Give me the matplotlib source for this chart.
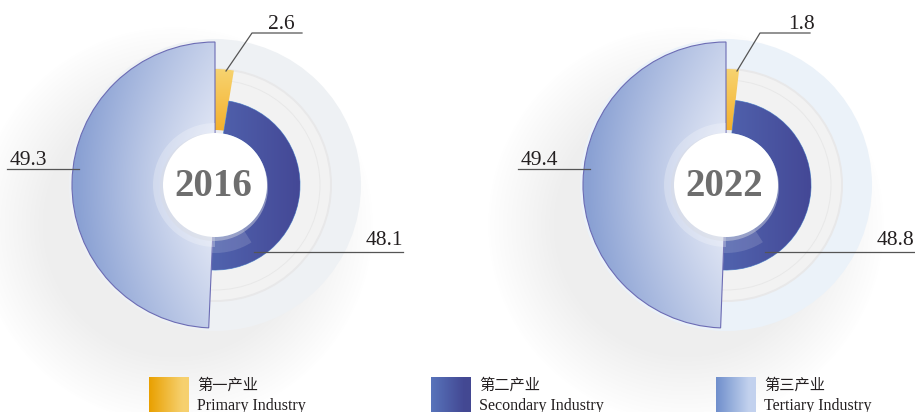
import numpy as np
import matplotlib.pyplot as plt
from matplotlib.patches import Wedge, Circle, Rectangle
from matplotlib.colors import to_rgb

# ---------------- data ----------------
years = ['2016', '2022']
primary = [2.6, 1.8]
secondary = [48.1, 48.8]
tertiary = [49.3, 49.4]
legend_cn = ['第一产业', '第二产业', '第三产业']
legend_en = ['Primary Industry', 'Secondary Industry', 'Tertiary Industry']

SERIF = ['Liberation Serif', 'Noto Sans CJK SC']
plt.rcParams['font.family'] = SERIF

W, H = 915, 412
fig = plt.figure(figsize=(W / 100, H / 100), dpi=100)
ax = fig.add_axes([0, 0, 1, 1])


def mix(c1, c2, t):
    t = np.clip(t, 0, 1)[..., None]
    return np.array(to_rgb(c1)) * (1 - t) + np.array(to_rgb(c2)) * t


def grad_fill(patch, extent, func, z):
    x0, x1, y0, y1 = extent
    X, Y = np.meshgrid(np.linspace(x0, x1, 160), np.linspace(y0, y1, 160))
    im = ax.imshow(func(X, Y), extent=(x0, x1, y1, y0), origin='upper',
                   zorder=z, interpolation='bilinear')
    im.set_clip_path(patch)


# soft shadow behind the charts (lower left)
gx, gy = np.meshgrid(np.arange(W) + 0.5, np.arange(H) + 0.5)
alpha = np.zeros((H, W))
centres = [(215, 185), (726, 185)]
for cx, cy in centres:
    d = np.hypot(gx - (cx - 40), gy - (cy + 40))
    alpha = np.maximum(alpha, 0.13 * np.clip((200 - d) / 70, 0, 1))
shadow = np.zeros((H, W, 4))
shadow[..., :3] = 0.5
shadow[..., 3] = alpha
ax.imshow(shadow, extent=(0, W, H, 0), origin='upper', zorder=0)

ring_cols = ['#eef1f4', '#ebf2f9']

for k, (cx, cy) in enumerate(centres):
    # background rings
    ax.add_patch(Circle((cx, cy), 146, fc=ring_cols[k], ec='none', zorder=1))
    ax.add_patch(Circle((cx, cy), 117, fc='#e8e8e9', ec='none', zorder=1))
    ax.add_patch(Circle((cx, cy), 115, fc='#f2f2f2', ec='none', zorder=1))
    ax.add_patch(Circle((cx, cy), 105, fc='none', ec='#e8e8e8', lw=0.7, zorder=1))
    ax.add_patch(Circle((cx, cy), 68, fc='#ebedf1', ec='none', zorder=1))

    vals = [primary[k], secondary[k], tertiary[k]]
    cum = np.concatenate([[0], np.cumsum(vals)])
    total = cum[-1]
    th = [270 + 360 * c / total for c in cum]

    # primary (orange)
    w1 = Wedge((cx, cy), 116, th[0], th[1], width=116 - 55, fc='none', ec='none')
    ax.add_patch(w1)
    grad_fill(w1, (cx - 5, cx + 30, cy - 120, cy - 50),
              lambda X, Y: mix('#f7d36f', '#f4b02c', (Y - (cy - 116)) / 62), 3)

    # secondary (dark blue)
    w2 = Wedge((cx, cy), 85, th[1], th[2], width=85 - 52, fc='none',
               ec='#5d9ad8', lw=0.6, zorder=3)
    ax.add_patch(w2)
    grad_fill(w2, (cx - 10, cx + 90, cy - 90, cy + 90),
              lambda X, Y: mix('#5062ad', '#444896', (X - cx) / 85), 3)
    ax.add_patch(Wedge((cx, cy), 68, th[2] - 35, th[2], width=16, fc='white',
                       ec='none', alpha=0.14, zorder=3.5))

    # tertiary (light blue)
    w3 = Wedge((cx, cy), 143, th[2], th[3], fc='none', ec='#6c6cb4', lw=0.8, zorder=3.2)
    ax.add_patch(w3)

    def lb(X, Y, cx=cx, cy=cy):
        h = (cx - X) / 143
        r = np.hypot(X - cx, Y - cy) / 143
        t = 0.7 * h + 0.45 * r - 0.12
        return mix('#e4e9f6', '#89a0d3', t)
    grad_fill(w3, (cx - 145, cx + 2, cy - 145, cy + 145), lb, 3)

    # halo + centre circle
    ax.add_patch(Wedge((cx, cy), 62, 90, 270, width=10, fc='white', ec='none',
                       alpha=0.25, zorder=4))
    ax.add_patch(Circle((cx - 1, cy + 2), 54, fc='#d8dbe3', ec='none', alpha=0.45, zorder=4))
    ax.add_patch(Circle((cx, cy), 52, fc='white', ec='none', zorder=5))
    ax.text(cx - 2, cy + 1, years[k], ha='center', va='center', fontsize=28,
            fontweight='bold', color='#6e6e6e', family=SERIF, zorder=6)

# value labels with leader lines (pixel layout)
lab = dict(fontsize=15.5, color='#231f20', family=SERIF, zorder=7)
lc = dict(color='#555555', lw=0.9, zorder=7)
for k, (cx, cy) in enumerate(centres):
    s = cx - 215
    # primary
    ax.plot([cx + 11, cx + 37 - (3 if k else 0), cx + 87 - (3 if k else 0)],
            [71, 33, 33], **lc)
    ax.text(cx + 53 + (9 if k else 0), 29, f'{primary[k]}', ha='left', va='baseline', **lab)
    # tertiary
    ax.plot([7 + s, 79 + s], [169, 169], **lc)
    ax.text(10 + s, 165, f'{tertiary[k]}', ha='left', va='baseline', **lab)
    # secondary
    ax.plot([254 + s, 403 + s], [252, 252], **lc)
    ax.text(403 + s, 245, f'{secondary[k]}', ha='right', va='baseline', **lab)

# legend
sq_x = [149, 431, 716]
sq_cols = [('#e9a000', '#f6d06e'), ('#5874bb', '#434893'), ('#6f8fcc', '#c3d2ee')]
for i in range(3):
    x0 = sq_x[i]
    r = Rectangle((x0, 377), 40, 40, fc='none', ec='none')
    ax.add_patch(r)
    c1, c2 = sq_cols[i]
    grad_fill(r, (x0, x0 + 40, 377, 417),
              lambda X, Y, x0=x0, c1=c1, c2=c2: mix(c1, c2, (X - x0) / 40 * 1.2), 3)
    ax.text(x0 + 48, 385, legend_cn[i], ha='left', va='center', fontsize=11,
            color='#231f20', family=['Noto Sans CJK SC'], zorder=7)
    ax.text(x0 + 48, 409.5, legend_en[i], ha='left', va='baseline', fontsize=11.5,
            color='#231f20', family=SERIF, zorder=7)

ax.set_xlim(0, W)
ax.set_ylim(H, 0)
ax.set_aspect('auto')
ax.axis('off')
fig.savefig('out.png', dpi=100)
